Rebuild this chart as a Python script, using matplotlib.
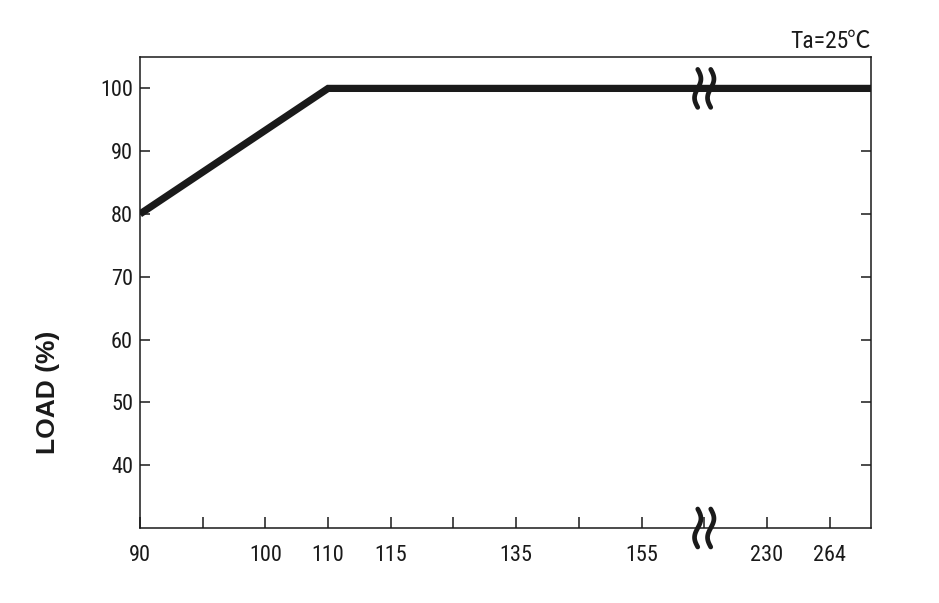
import numpy as np
import matplotlib
matplotlib.use("Agg")
import matplotlib.pyplot as plt
import matplotlib.transforms as mtransforms

# ---- data ----
x_tick_labels = ['90', '', '100', '110', '115', '', '135', '', '155', '', '230', '264']
curve_voltage = ['90', '110', '264']
curve_load = [80, 100, 100]
y_ticks = [40, 50, 60, 70, 80, 90, 100]
break_index = 9
ylabel_text = 'LOAD (%)'
note_main = 'Ta=25'
note_unit = '℃'

fam = ['Roboto Condensed', 'Noto Sans CJK JP', 'DejaVu Sans']
plt.rcParams['font.family'] = fam

fig = plt.figure(figsize=(9.39, 6.03), dpi=100)
ax = fig.add_axes([140/939, 75/603, 731/939, 471/603])

xpos = list(range(len(x_tick_labels)))
xmax = 11.66
ax.set_xlim(0, xmax)
ax.set_ylim(30, 105)

cx = [x_tick_labels.index(v) for v in curve_voltage]
cy = list(curve_load)
cx = cx + [xmax]
cy = cy + [cy[-1]]
ax.plot(cx, cy, color='#1a1a1a', lw=5.2, solid_capstyle='butt', solid_joinstyle='miter',
        clip_on=True, zorder=3)

ax.set_xticks(xpos)
ax.set_xticklabels(x_tick_labels)
ax.set_yticks(y_ticks)
ax.set_yticklabels([str(v) for v in y_ticks])

spine_color = '#1a1a1a'
for s in ax.spines.values():
    s.set_linewidth(1.1)
    s.set_color(spine_color)

ax.tick_params(axis='x', direction='in', length=8, width=1.1, color=spine_color,
               pad=12, labelsize=16, labelcolor='#1a1a1a')
ax.tick_params(axis='y', direction='in', length=7.5, width=1.1, color=spine_color,
               pad=5, labelsize=16, labelcolor='#1a1a1a', right=True)

ax.set_ylabel(ylabel_text, fontsize=19, fontweight='bold', color='#1a1a1a',
              family=['Liberation Sans', 'DejaVu Sans'])
ax.yaxis.set_label_coords(-0.109, 0.289)

unit = ax.text(1.0, 1.0, note_unit, ha='right', va='baseline', fontsize=17, color='#1a1a1a',
               family=['Noto Sans CJK JP', 'DejaVu Sans'],
               transform=ax.transAxes + mtransforms.ScaledTranslation(0, 9/100, fig.dpi_scale_trans))
fig.canvas.draw()
uw = unit.get_window_extent().width
main = ax.text(1.0, 1.0, note_main, ha='right', va='baseline', fontsize=17, color='#1a1a1a',
               transform=ax.transAxes + mtransforms.ScaledTranslation(-(uw - 1) / 100, 9/100, fig.dpi_scale_trans))

# break symbols (S-shaped double strokes)
t = np.linspace(-1, 1, 60)
H = 38 / 100
A = 3.2 / 100
for yb in (curve_load[-1], ax.get_ylim()[0]):
    for dx in (-6.5 / 100, 6.5 / 100):
        xs = dx + A * np.sin(np.pi * t)
        ys = t * H / 2
        trans = fig.dpi_scale_trans + mtransforms.ScaledTranslation(break_index, yb, ax.transData)
        ax.plot(xs, ys, transform=trans, color='#1a1a1a', lw=3.4, clip_on=False,
                solid_capstyle='round', zorder=5)

fig.savefig('out.png', dpi=100, facecolor='white')
